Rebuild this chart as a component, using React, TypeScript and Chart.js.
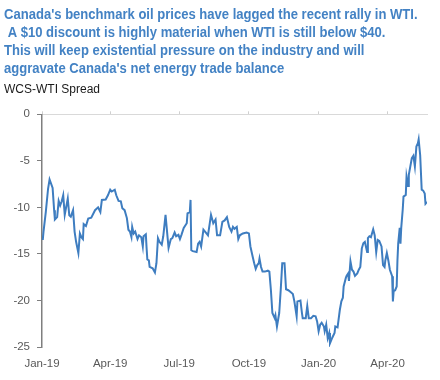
import { useEffect, useRef } from 'react';
import { Chart, registerables } from 'chart.js';

Chart.register(...registerables);

const titleLines = [
  "Canada's benchmark oil prices have lagged the recent rally in WTI.",
  ' A $10 discount is highly material when WTI is still below $40.',
  'This will keep existential pressure on the industry and will',
  "aggravate Canada's net energy trade balance",
];
const subtitleText = 'WCS-WTI Spread';

// x axis: days since 1 Jan 2019
const tickDays = [0, 90, 181, 273, 365, 456];
const tickLabels = ['Jan-19', 'Apr-19', 'Jul-19', 'Oct-19', 'Jan-20', 'Apr-20'];
const xMaxDay = 508;
const yMin = -25;
const yMax = 0;
const yStep = 5;

const dayOffsets = [
  1, 2, 5, 8, 10, 14, 16, 17, 20, 22, 24, 26, 28, 30, 34, 36, 38, 41, 43, 45,
  48, 50, 52, 54, 55, 58, 61, 65, 70, 74, 77, 79, 84, 87, 90, 92, 96, 98, 101, 104,
  106, 109, 112, 114, 116, 118, 119, 121, 123, 126, 128, 131, 133, 134, 137, 138, 139, 141, 142, 146,
  149, 151, 153, 155, 158, 160, 163, 166, 167, 170, 172, 175, 177, 180, 182, 184, 187, 191, 192, 195,
  196, 197, 199, 204, 206, 208, 210, 213, 217, 219, 223, 226, 229, 231, 235, 238, 241, 244, 247, 250,
  252, 254, 257, 259, 261, 265, 270, 273, 275, 278, 280, 282, 284, 286, 287, 289, 291, 294, 298, 300,
  302, 304, 307, 308, 310, 313, 315, 317, 320, 322, 325, 328, 331, 333, 336, 337, 341, 343, 344, 348,
  350, 352, 355, 358, 361, 363, 365, 367, 369, 372, 373, 375, 377, 379, 380, 383, 386, 387, 390, 393,
  395, 397, 398, 401, 402, 404, 405, 407, 409, 411, 413, 416, 418, 420, 422, 424, 426, 429, 430, 432,
  434, 437, 439, 441, 443, 445, 448, 450, 452, 453, 455, 457, 459, 462, 463, 464, 466, 468, 469, 470,
  472, 473, 474, 476, 477, 480, 481, 483, 484, 486, 488, 490, 492, 494, 496, 497, 499, 501, 503, 505,
  506, 508,
];

const spread = [
  -13.5, -12.6, -10.5, -8.0, -7.0, -7.9, -10.3, -11.3, -11.05, -9.3, -9.8, -9.35, -8.7, -10.8, -9.05, -10.85, -11.0, -10.3, -12.6, -13.7,
  -14.9, -12.8, -13.2, -13.4, -11.8, -12.0, -11.2, -11.1, -10.3, -10.0, -10.5, -9.2, -9.15, -8.7, -8.1, -8.3, -8.1, -8.7, -9.3, -9.35,
  -10.1, -10.3, -11.15, -12.4, -12.6, -13.2, -12.1, -12.8, -12.6, -13.4, -13.0, -13.2, -14.2, -13.1, -12.9, -14.35, -15.6, -15.7, -16.4, -16.55,
  -17.0, -16.0, -13.3, -13.7, -14.0, -13.1, -10.8, -13.5, -14.35, -13.4, -13.3, -12.7, -13.1, -12.95, -13.4, -12.95, -12.2, -11.7, -10.65, -10.5,
  -9.2, -14.6, -14.7, -14.8, -13.9, -13.7, -14.2, -12.4, -12.8, -13.0, -10.8, -11.7, -11.3, -13.0, -13.0, -11.55, -11.4, -11.05, -12.1, -12.6,
  -12.1, -12.3, -12.1, -13.4, -13.0, -12.8, -12.7, -12.8, -14.2, -15.3, -16.0, -16.6, -16.2, -16.0, -15.5, -16.4, -16.9, -16.9, -16.8, -16.9,
  -18.85, -21.35, -21.9, -21.6, -22.8, -21.35, -18.85, -16.0, -16.0, -18.8, -18.9, -19.1, -19.3, -20.1, -21.7, -20.1, -20.0, -21.35, -21.9, -21.9,
  -20.6, -21.9, -21.9, -21.65, -21.7, -22.25, -23.3, -22.6, -22.4, -22.8, -23.3, -22.6, -24.05, -23.5, -24.6, -24.0, -23.5, -22.8, -22.9, -21.0,
  -20.1, -19.7, -18.5, -17.55, -17.35, -17.1, -17.9, -15.8, -16.7, -16.9, -17.35, -17.1, -16.7, -16.4, -14.4, -13.85, -13.7, -14.8, -13.3, -13.1,
  -13.2, -12.35, -13.0, -14.8, -13.5, -13.6, -14.2, -16.2, -16.4, -15.7, -14.9, -15.7, -16.7, -17.4, -20.1, -19.0, -18.9, -18.5, -15.7, -13.9,
  -12.2, -13.9, -12.2, -10.2, -8.84, -8.66, -6.7, -7.7, -6.5, -5.6, -4.7, -4.45, -5.6, -3.47, -3.1, -2.69, -4.4, -8.1, -8.2, -8.5,
  -9.6, -9.4,
];

const BLUE = '#3E7DC0';
const TITLE_BLUE = '#4382C4';
const LABEL = '#595959';
const SANS = '"Liberation Sans", Arial, Helvetica, sans-serif';

// Header text drawn in a condensed style (the original uses a narrow bold face)
const headerPlugin = {
  id: 'header',
  afterDraw(chart: any) {
    const ctx = chart.ctx as CanvasRenderingContext2D;
    ctx.save();
    ctx.textBaseline = 'alphabetic';
    ctx.textAlign = 'left';
    ctx.fillStyle = TITLE_BLUE;
    ctx.font = `bold 14.5px ${SANS}`;
    const sx = 0.9;
    ctx.scale(sx, 1);
    titleLines.forEach((line, i) => {
      ctx.fillText(line, 4 / sx, 19.3 + i * 17.8);
    });
    ctx.restore();
    ctx.save();
    ctx.textBaseline = 'alphabetic';
    ctx.textAlign = 'left';
    ctx.fillStyle = '#1a1a1a';
    ctx.font = `12px ${SANS}`;
    ctx.fillText(subtitleText, 4, 92.7);
    ctx.restore();
  },
};

export default function App() {
  const ref = useRef<HTMLCanvasElement>(null);

  useEffect(() => {
    document.body.style.margin = '0';
    const quarterTicks = (scale: any) => {
      scale.ticks = tickDays.map((v) => ({ value: v }));
    };
    const chart = new Chart(ref.current as HTMLCanvasElement, {
      type: 'line',
      data: {
        datasets: [
          {
            data: dayOffsets.map((d, i) => ({ x: d, y: spread[i] })),
            borderColor: BLUE,
            borderWidth: 2,
            pointRadius: 0,
            tension: 0,
            fill: false,
            xAxisID: 'x',
            yAxisID: 'y',
          },
        ],
      },
      plugins: [headerPlugin],
      options: {
        animation: false,
        responsive: false,
        layout: { padding: { left: 4, right: 13, top: 95, bottom: 0 } },
        plugins: {
          legend: { display: false },
          tooltip: { enabled: false },
          title: { display: false },
        },
        scales: {
          x: {
            type: 'linear',
            position: 'bottom',
            min: 0,
            max: xMaxDay,
            afterBuildTicks: quarterTicks,
            afterFit: (s: any) => {
              s.height = 33;
            },
            grid: { display: false, drawTicks: false },
            border: { display: false },
            ticks: {
              autoSkip: false,
              maxRotation: 0,
              padding: 10,
              color: LABEL,
              font: { family: SANS, size: 11.5 },
              callback: (v: any) => {
                const i = tickDays.indexOf(Number(v));
                return i >= 0 ? tickLabels[i] : '';
              },
            },
          },
          x2: {
            type: 'linear',
            position: 'top',
            min: 0,
            max: xMaxDay,
            afterBuildTicks: quarterTicks,
            afterFit: (s: any) => {
              s.height = 19.3;
            },
            grid: { drawOnChartArea: false, drawTicks: true, tickLength: 3, color: '#D0D0D0' },
            border: { display: true, color: '#D9D9D9', width: 1 },
            ticks: { display: false },
          },
          y: {
            type: 'linear',
            position: 'left',
            min: yMin,
            max: yMax,
            afterFit: (s: any) => {
              s.width = 38;
            },
            grid: { drawOnChartArea: false, drawTicks: true, tickLength: 5, color: '#7F7F7F', lineWidth: 1 },
            border: { display: true, color: '#7F7F7F', width: 1.5 },
            ticks: {
              stepSize: yStep,
              padding: 7,
              color: LABEL,
              font: { family: SANS, size: 11.5 },
            },
          },
        },
      },
    });
    return () => chart.destroy();
  }, []);

  return <canvas ref={ref} width={440} height={380} style={{ display: 'block' }} />;
}
